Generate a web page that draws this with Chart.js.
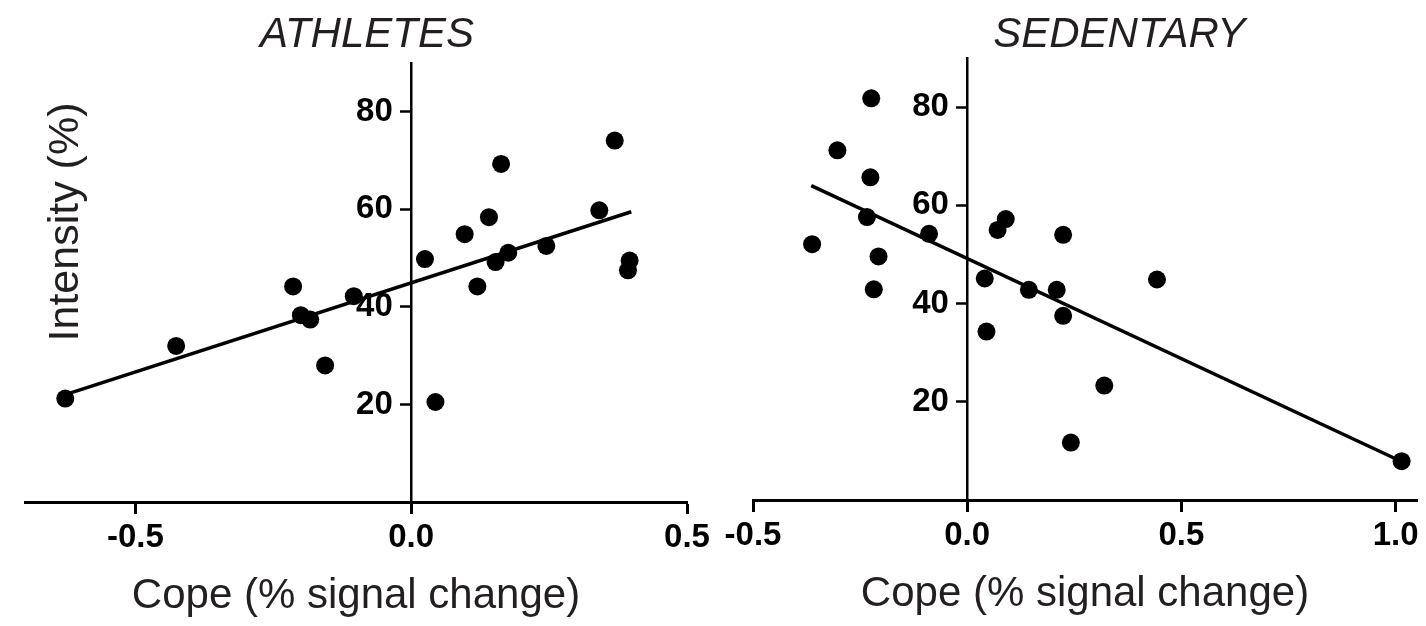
<!DOCTYPE html>
<html>
<head>
<meta charset="utf-8">
<script src="https://cdn.jsdelivr.net/npm/chart.js@4.4.1/dist/chart.umd.min.js"></script>
<style>
  html, body { margin: 0; padding: 0; background: #fff; overflow: hidden; }
  #wrap { position: relative; width: 1426px; height: 626px; }
  canvas { position: absolute; top: 0; }
  #athletes { left: 0; }
  #sedentary { left: 720px; }
</style>
</head>
<body>
<div id="wrap">
  <canvas id="athletes" width="720" height="626"></canvas>
  <canvas id="sedentary" width="706" height="626"></canvas>
</div>
<script>
// ATHLETES panel: cope (% signal change) vs intensity (%)
const athCope = [-0.627, -0.426, -0.214, -0.200, -0.183, -0.156, -0.104, 0.025, 0.044, 0.097,
                 0.120, 0.141, 0.153, 0.163, 0.176, 0.245, 0.341, 0.369, 0.396, 0.393];
const athIntensity = [21.2, 32.0, 44.2, 38.3, 37.4, 28.0, 42.2, 49.8, 20.5, 54.9,
                      44.2, 58.4, 49.2, 69.3, 51.1, 52.5, 59.8, 74.1, 49.5, 47.5];
// regression line end points
const athFitX = [-0.627, 0.399];
const athFitY = [22.0, 59.5];
const athTicksX = [-0.5, 0, 0.5];

// SEDENTARY panel
const sedCope = [-0.224, -0.303, -0.226, -0.234, -0.362, -0.207, -0.218, -0.089, 0.071, 0.090,
                 0.041, 0.045, 0.144, 0.209, 0.224, 0.224, 0.320, 0.242, 0.443, 1.014];
const sedIntensity = [81.8, 71.2, 65.7, 57.6, 52.1, 49.6, 42.9, 54.2, 55.0, 57.2,
                      45.1, 34.3, 42.8, 42.8, 54.0, 37.5, 23.3, 11.7, 44.9, 7.9];
const sedFitX = [-0.364, 1.005];
const sedFitY = [64.0, 8.2];
const sedTicksX = [-0.5, 0, 0.5, 1.0];

const ticksY = [20, 40, 60, 80];

const INK = '#000';
const tickFont = { family: '"Liberation Sans Narrow", "Liberation Sans", Arial, sans-serif', size: 33, weight: 'bold' };
const labelFamily = '"Liberation Sans", Arial, Helvetica, sans-serif';

// draws the italic panel title and (optionally) the rotated y title
const panelText = {
  id: 'panelText',
  afterDraw(chart, args, opts) {
    const ctx = chart.ctx;
    const x = chart.scales.x;
    ctx.save();
    ctx.fillStyle = '#231f20';
    ctx.textAlign = 'center';
    ctx.textBaseline = 'alphabetic';
    ctx.font = 'italic 42px ' + labelFamily;
    ctx.fillText(opts.title, x.getPixelForValue(opts.titleAt), 47);
    if (opts.yTitle) {
      ctx.translate(78, 222);
      ctx.rotate(-Math.PI / 2);
      ctx.font = '43px ' + labelFamily;
      ctx.fillText(opts.yTitle, 0, 0);
    }
    ctx.restore();
  }
};

function makeChart(id, cope, intensity, fitX, fitY, ticksX, xMin, xMax, pad, text) {
  return new Chart(document.getElementById(id), {
    type: 'scatter',
    plugins: [panelText],
    data: {
      datasets: [
        {
          data: cope.map((v, i) => ({ x: v, y: intensity[i] })),
          backgroundColor: INK,
          borderColor: INK,
          pointRadius: 9,
          pointHoverRadius: 9,
          borderWidth: 0
        },
        {
          data: fitX.map((v, i) => ({ x: v, y: fitY[i] })),
          showLine: true,
          borderColor: INK,
          borderWidth: 3.5,
          pointRadius: 0
        }
      ]
    },
    options: {
      responsive: false,
      animation: false,
      layout: { padding: pad },
      plugins: {
        legend: { display: false },
        tooltip: { enabled: false },
        panelText: text
      },
      scales: {
        x: {
          type: 'linear',
          position: 'bottom',
          min: xMin,
          max: xMax,
          afterBuildTicks: s => { s.ticks = ticksX.map(v => ({ value: v })); },
          border: { display: true, color: INK, width: 3 },
          grid: { drawOnChartArea: false, drawTicks: true, tickLength: 12, tickWidth: 3, tickColor: INK },
          ticks: {
            color: INK,
            font: tickFont,
            padding: 4,
            maxRotation: 0,
            autoSkip: false,
            callback: v => v.toFixed(1)
          },
          title: {
            display: true,
            text: 'Cope (% signal change)',
            color: '#231f20',
            font: { family: labelFamily, size: 42 },
            padding: { top: 10, bottom: 0 }
          }
        },
        y: {
          type: 'linear',
          position: { x: 0 },
          min: 0,
          max: 90,
          afterBuildTicks: s => { s.ticks = ticksY.map(v => ({ value: v })); },
          border: { display: true, color: INK, width: 2.5 },
          grid: { drawOnChartArea: false, drawTicks: true, tickLength: 10, tickWidth: 2.5, tickColor: INK },
          // a centred axis puts its labels right on the axis line, so keep a gap for the tick marks
          ticks: { color: INK, font: tickFont, callback: v => v + '  ' }
        }
      }
    }
  });
}

makeChart('athletes', athCope, athIntensity, athFitX, athFitY, athTicksX, -0.7, 0.5,
  { left: 25, right: 33, top: 63, bottom: 4 },
  { title: 'ATHLETES', titleAt: -0.08, yTitle: 'Intensity (%)' });

makeChart('sedentary', sedCope, sedIntensity, sedFitX, sedFitY, sedTicksX, -0.5, 1.05,
  { left: 33, right: 0, top: 58, bottom: 6 },
  { title: 'SEDENTARY', titleAt: 0.355 });
</script>
</body>
</html>
